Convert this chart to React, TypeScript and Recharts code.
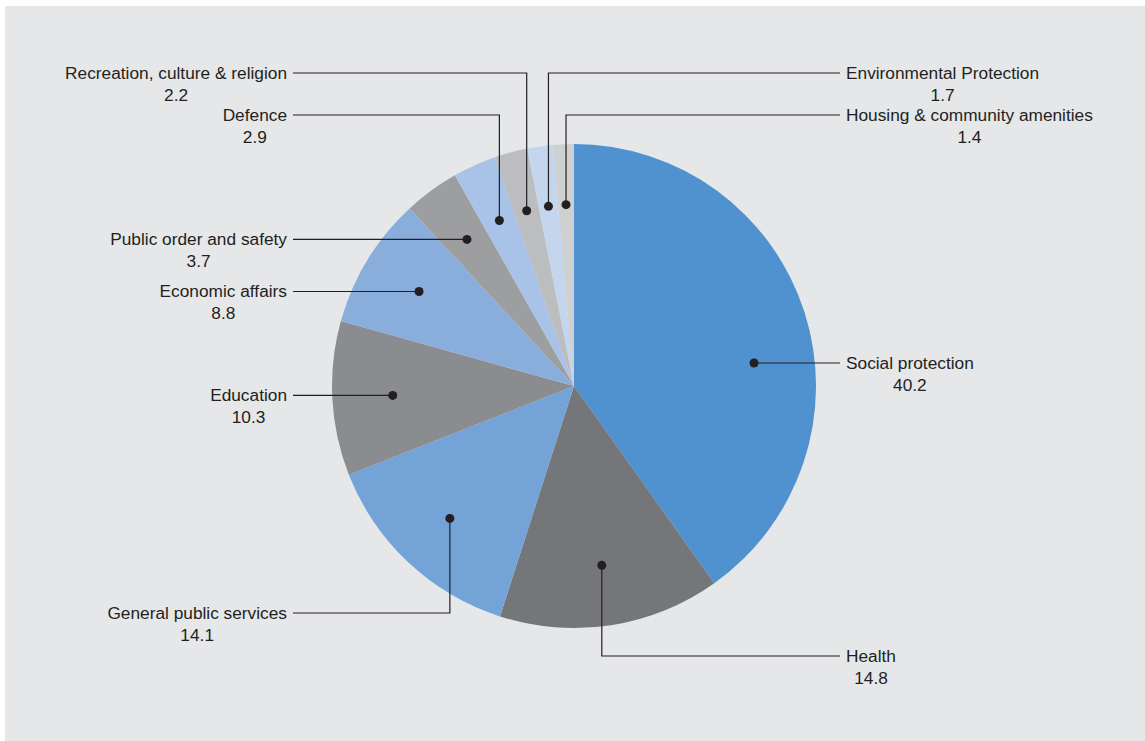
import { PieChart, Pie, Cell } from 'recharts';

// spending shares, clockwise from 12 o'clock
const categories: string[] = [
  'Social protection',
  'Health',
  'General public services',
  'Education',
  'Economic affairs',
  'Public order and safety',
  'Defence',
  'Recreation, culture & religion',
  'Environmental Protection',
  'Housing & community amenities',
];
const values: number[] = [40.2, 14.8, 14.1, 10.3, 8.8, 3.7, 2.9, 2.2, 1.7, 1.4];
const sliceColors: string[] = [
  '#5091cf', '#757679', '#74a3d8', '#8b8c8f', '#8aaedc',
  '#9d9ea0', '#a9c3e8', '#bcbdbf', '#c4d5ee', '#cfd0d2',
];

// which side each label sits on, and the y of the elbow (null = straight out)
const labelSide: ('L' | 'R')[] = ['R', 'R', 'L', 'L', 'L', 'L', 'L', 'L', 'R', 'R'];
const elbowY: (number | null)[] = [null, 656, 613, null, null, null, 115, 73, 73, 115];
// dot pinned to a given y on the inner circle instead of the slice's mid angle
const anchorY: (number | null)[] = [363, null, null, null, null, null, null, null, null, null];

const data = categories.map((name, i) => ({ name, value: values[i] }));

const W = 1145;
const H = 741;
const MARGIN = 5; // PieChart's default margin, cx/cy are measured from it
const CX = 574;
const CY = 386;
const R = 242;
const LEFT_END = 293;
const RIGHT_END = 840;
const FONT = '17.3px "Liberation Sans", Arial, sans-serif';
const ink = '#231f20';

let ctx: CanvasRenderingContext2D | null = null;
const textWidth = (s: string): number => {
  if (!ctx) ctx = document.createElement('canvas').getContext('2d');
  if (!ctx) return s.length * 8;
  ctx.font = FONT;
  return ctx.measureText(s).width;
};

const RAD = Math.PI / 180;

const renderLabel = (props: any) => {
  const { cx, cy, midAngle, outerRadius, index } = props;
  const r = outerRadius * 0.75;
  const side = labelSide[index];
  let dx = cx + r * Math.cos(-midAngle * RAD);
  let dy = cy + r * Math.sin(-midAngle * RAD);
  const ay = anchorY[index];
  if (ay != null) {
    dy = ay;
    const off = Math.sqrt(Math.max(0, r * r - (ay - cy) * (ay - cy)));
    dx = side === 'L' ? cx - off : cx + off;
  }
  const ly = elbowY[index] ?? dy;
  const ex = side === 'L' ? LEFT_END : RIGHT_END;
  const name = categories[index];
  const w = textWidth(name);
  const tx = side === 'L' ? ex - 6 : ex + 6;
  const valueX = side === 'L' ? tx - w / 2 : tx + w / 2;
  return (
    <g key={`lbl-${index}`}>
      <polyline
        points={`${dx},${dy} ${dx},${ly} ${ex},${ly}`}
        fill="none"
        stroke={ink}
        strokeWidth={1.2}
      />
      <circle cx={dx} cy={dy} r={4.5} fill={ink} />
      <text
        x={tx}
        y={ly + 6}
        textAnchor={side === 'L' ? 'end' : 'start'}
        fill={ink}
        style={{ font: FONT }}
      >
        {name}
      </text>
      <text x={valueX} y={ly + 28} textAnchor="middle" fill={ink} style={{ font: FONT }}>
        {values[index]}
      </text>
    </g>
  );
};

export default function App() {
  return (
    <div style={{ position: 'absolute', left: 0, top: 0, width: W, height: H, background: '#fff' }}>
      <div
        style={{ position: 'absolute', left: 5, top: 6, width: W - 5, height: H - 6, background: '#e6e7e9' }}
      />
      <div style={{ position: 'absolute', left: 0, top: 0 }}>
        <PieChart width={W} height={H}>
          <Pie
            data={data}
            dataKey="value"
            nameKey="name"
            cx={CX - MARGIN}
            cy={CY - MARGIN}
            outerRadius={R}
            startAngle={90}
            endAngle={-270}
            stroke="none"
            labelLine={false}
            label={renderLabel}
            isAnimationActive={false}
          >
            {data.map((d, i) => (
              <Cell key={d.name} fill={sliceColors[i]} />
            ))}
          </Pie>
        </PieChart>
      </div>
    </div>
  );
}
